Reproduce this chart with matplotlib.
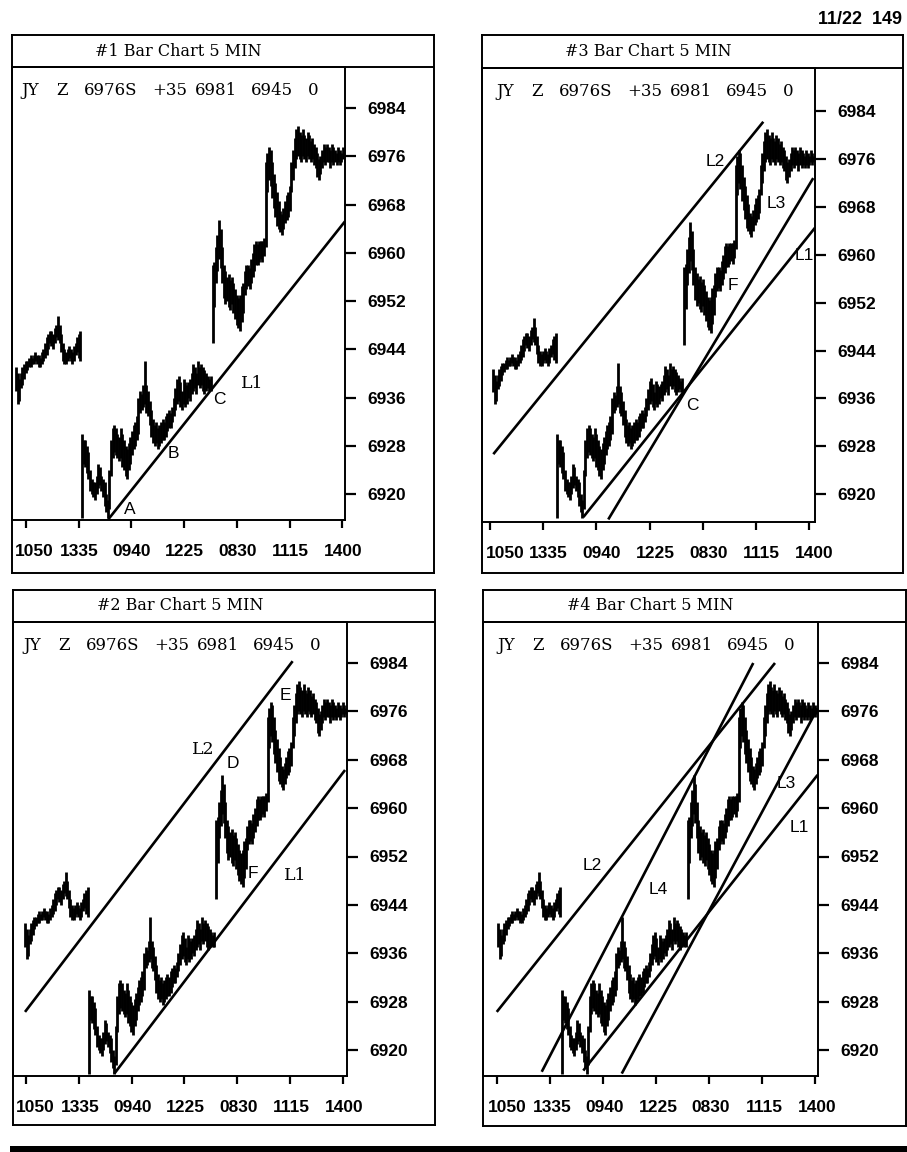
import matplotlib
matplotlib.use('Agg')
import matplotlib.pyplot as plt
from matplotlib.patches import Rectangle
from matplotlib.transforms import ScaledTranslation
import numpy as np

# ---------------- data ----------------
DAY1_START = -6
DAY1_HIGH = [6941, 6940, 6939, 6940, 6941, 6941.5, 6942, 6942, 6942.5, 6943, 6942.5,
             6943, 6943.5, 6943, 6943, 6942.5, 6943.5, 6944, 6945, 6946, 6946.5, 6947,
             6947, 6946.5, 6947.5, 6948, 6949.5, 6948, 6946.5, 6945, 6944, 6943.5, 6944,
             6944.5, 6944, 6943.5, 6944.5, 6945, 6946, 6946.5, 6947]
DAY1_LOW = [6937, 6935, 6935.5, 6937.5, 6938, 6939, 6940, 6940.5, 6941, 6941, 6941.5,
            6941.5, 6942, 6941.5, 6941, 6941, 6941.5, 6942, 6942.5, 6943, 6944, 6945,
            6944.5, 6944, 6945, 6946, 6945.5, 6945, 6943.5, 6942, 6941.5, 6941.5, 6942,
            6942.5, 6942, 6941.5, 6942, 6943, 6943.5, 6942.5, 6942]

DAY2_START = 35
DAY2_HIGH = [6930, 6929, 6929, 6928, 6927, 6924, 6922.5, 6922, 6922, 6923, 6925, 6924.5,
             6923, 6922.5, 6922, 6920, 6919, 6924, 6929, 6931, 6931.5, 6931, 6930, 6929.5,
             6931, 6930, 6929, 6928, 6927.5, 6928.5, 6929.5, 6930.5, 6931.5, 6932, 6933,
             6936, 6937, 6936.5, 6938, 6942, 6938, 6937, 6935.5, 6934, 6932.5, 6931.5,
             6932, 6931, 6931.5, 6932, 6932.5, 6932, 6933, 6933.5, 6934, 6933.5, 6934.5,
             6936, 6937.5, 6939, 6939.5, 6938.5, 6937, 6939, 6938.5, 6938, 6938.5, 6939,
             6940, 6941.5, 6941, 6940, 6942, 6941, 6941.5, 6941, 6940.5, 6940, 6939.5,
             6939, 6939.5]
DAY2_LOW = [6916, 6925, 6924.5, 6923.5, 6922.5, 6920.5, 6920, 6919.5, 6919, 6920, 6921,
            6921.5, 6920.5, 6919.5, 6918, 6917, 6916, 6917.5, 6923, 6926, 6927, 6926.5,
            6926, 6925.5, 6926, 6924.5, 6924, 6923, 6922.5, 6924, 6925, 6926.5, 6927.5,
            6928, 6929, 6930, 6933.5, 6934, 6934.5, 6935, 6933.5, 6933, 6931.5, 6929.5,
            6928.5, 6928, 6928.5, 6927.5, 6928, 6928.5, 6929, 6929, 6929.5, 6930.5, 6931,
            6931, 6932, 6933, 6934, 6935, 6935.5, 6934.5, 6934, 6935, 6934.5, 6935, 6936,
            6935.5, 6936.5, 6937, 6937.5, 6936.5, 6938, 6937.5, 6938, 6937, 6936.5, 6937,
            6937.5, 6937, 6937]

DAY3_START = 116
DAY3_HIGH = [6958, 6958.5, 6961, 6963, 6965.5, 6964, 6961, 6958, 6957, 6956, 6956.5,
             6955.5, 6956, 6955, 6954, 6953, 6952.5, 6953, 6954.5, 6955, 6957, 6958, 6958,
             6957.5, 6959, 6960, 6961.5, 6962, 6961.5, 6962, 6962, 6962, 6962.5, 6975,
             6976.5, 6977.5, 6977, 6975, 6973, 6971.5, 6970, 6968.5, 6967, 6966.5, 6967.5,
             6968.5, 6969.5, 6970, 6971, 6975, 6977, 6979, 6980.5, 6981, 6980, 6979.5,
             6980.5, 6979.5, 6979, 6980, 6979.5, 6978.5, 6979, 6978, 6977.5, 6976.5,
             6975.5, 6976, 6977, 6978, 6977.5, 6978, 6977.5, 6977, 6978, 6977.5, 6977,
             6976.5, 6977.5, 6977, 6976.5, 6977.5, 6977, 6976.5]
DAY3_LOW = [6945, 6951, 6955, 6957, 6959, 6957.5, 6955, 6952.5, 6951.5, 6952, 6951,
            6950.5, 6951.5, 6950, 6949, 6948, 6947.5, 6947, 6948.5, 6950, 6953, 6954,
            6954.5, 6954, 6955, 6956, 6957, 6958, 6958, 6958.5, 6959, 6958.5, 6959.5,
            6961, 6970, 6972, 6971, 6969, 6967.5, 6966, 6964.5, 6964, 6963.5, 6963, 6964,
            6965, 6965.5, 6966, 6967, 6970, 6972, 6974, 6975.5, 6976, 6975.5, 6975, 6976,
            6975.5, 6975, 6976, 6975.5, 6975, 6975.5, 6974.5, 6974, 6972.5, 6972, 6973,
            6974, 6975, 6974.5, 6975, 6975, 6974, 6975, 6974.5, 6975, 6974.5, 6975,
            6974.5, 6975, 6975.5, 6975, 6975.5]

PRICE_TICKS = [6920, 6928, 6936, 6944, 6952, 6960, 6968, 6976, 6984]
TIME_LABELS = ['1050', '1335', '0940', '1225', '0830', '1115', '1400']
INFO_TOKENS = ['JY', 'Z', '6976S', '+35', '6981', '6945', '0']
TITLES = ['#1 Bar Chart 5 MIN', '#2 Bar Chart 5 MIN', '#3 Bar Chart 5 MIN', '#4 Bar Chart 5 MIN']
PAGE_HEADER = '11/22  149'

# trend lines (bar index, price)
P1_L1 = ([51.3, 198.2], [6915.8, 6965.2])
P2_L2 = ([-6.0, 165.0], [6926.3, 6984.3])
P2_L1 = ([51.1, 198.5], [6916.1, 6966.3])
P3_L2 = ([-5.8, 166.6], [6926.7, 6982.2])
P3_L1 = ([51.7, 199.6], [6916.2, 6964.5])
P3_L3 = ([67.6, 198.5], [6915.8, 6972.8])
P4_L2 = ([-7.0, 172.4], [6926.3, 6984.0])
P4_L4 = ([22.0, 158.4], [6916.4, 6984.0])
P4_L1 = ([48.8, 199.9], [6916.6, 6965.5])
P4_L3 = ([73.6, 199.9], [6916.1, 6976.5])

# ---------------- figure ----------------
W, H = 907, 1152
fig = plt.figure(figsize=(W / 100, H / 100), dpi=100)
fig.patch.set_facecolor('white')

SERIF = ['DejaVu Serif']
SANS = ['Liberation Sans', 'DejaVu Sans']


def axes_px(x0, y0, x1, y1, z=0):
    return fig.add_axes([x0 / W, 1 - y1 / H, (x1 - x0) / W, (y1 - y0) / H], zorder=z)


def ftext(x, y, s, **kw):
    fig.text(x / W, 1 - y / H, s, **kw)


idx1 = np.arange(DAY1_START, DAY1_START + len(DAY1_HIGH))
idx2 = np.arange(DAY2_START, DAY2_START + len(DAY2_HIGH))
idx3 = np.arange(DAY3_START, DAY3_START + len(DAY3_HIGH))
bar_idx = np.concatenate([idx1, idx2, idx3])
bar_hi = np.concatenate([DAY1_HIGH, DAY2_HIGH, DAY3_HIGH])
bar_lo = np.concatenate([DAY1_LOW, DAY2_LOW, DAY3_LOW])

# panel geometry in pixels
PANELS = [
    dict(title=TITLES[0], box=(12, 35, 434, 573), band=67, plot=(12, 67, 345, 520),
         tick0=26, tickstep=52.7, a=25.67, b=1.611, p84=108, p20=494, info_dx=9,
         lbl_shift=0.5, first_shift=8, lines=[P1_L1],
         labels=[('A', 130, 510, SANS), ('B', 173, 453, SANS), ('C', 219, 399, SANS),
                 ('L1', 252, 383, SERIF)]),
    dict(title=TITLES[1], box=(13, 590, 435, 1125), band=622, plot=(13, 622, 347, 1076),
         tick0=26, tickstep=52.83, a=34.4, b=1.565, p84=663, p20=1050, info_dx=10,
         lbl_shift=1, first_shift=8, lines=[P2_L2, P2_L1],
         labels=[('L2', 203, 750, SERIF), ('D', 233, 764, SANS), ('E', 285, 696, SANS),
                 ('F', 253, 873, SANS), ('L1', 295, 875, SERIF)]),
    dict(title=TITLES[2], box=(482, 35, 903, 573), band=68, plot=(482, 68, 815, 522),
         tick0=490, tickstep=53.17, a=502.4, b=1.566, p84=111, p20=494.3, info_dx=14,
         lbl_shift=5.5, first_shift=10, lines=[P3_L2, P3_L1, P3_L3],
         labels=[('L2', 715, 162, SANS), ('L3', 776, 203, SANS), ('L1', 804, 255, SANS),
                 ('F', 733, 286, SANS), ('C', 692, 406, SANS)]),
    dict(title=TITLES[3], box=(483, 590, 906, 1126), band=622, plot=(483, 622, 818, 1076),
         tick0=497, tickstep=53.0, a=507.6, b=1.551, p84=663, p20=1050, info_dx=14,
         lbl_shift=2, first_shift=8, lines=[P4_L2, P4_L4, P4_L1, P4_L3],
         labels=[('L2', 592, 865, SANS), ('L4', 658, 889, SANS), ('L3', 786, 783, SANS),
                 ('L1', 799, 828, SANS)]),
]

INFO_OFFSETS = [0, 35, 63, 131, 174, 230, 287]

for P in PANELS:
    bx0, by0, bx1, by1 = P['box']
    px0, py0, px1, py1 = P['plot']
    # outer frame
    fr = axes_px(bx0, by0, bx1, by1, z=0)
    fr.set_xlim(0, 1)
    fr.set_ylim(0, 1)
    fr.set_xticks([])
    fr.set_yticks([])
    for s in fr.spines.values():
        s.set_linewidth(1.4)
    fr.axhline(1 - (P['band'] - by0) / (by1 - by0), color='black', lw=1.4)
    ftext((px0 + px1) / 2, (by0 + P['band']) / 2, P['title'], ha='center', va='center',
          family=SERIF, fontsize=11.5)

    ax = axes_px(px0, py0, px1, py1, z=2)
    ax.patch.set_alpha(0)
    a, b = P['a'], P['b']
    ax.set_xlim((px0 - a) / b, (px1 - a) / b)
    ppu = (P['p20'] - P['p84']) / 64.0
    ax.set_ylim(6920 - (py1 - P['p20']) / ppu, 6920 + (P['p20'] - py0) / ppu)

    ax.vlines(bar_idx, bar_lo, bar_hi, color='black', lw=2.0)
    for lx, ly in P['lines']:
        ax.plot(lx, ly, color='black', lw=1.9, solid_capstyle='butt')

    tick_pos = [((P['tick0'] + k * P['tickstep']) - a) / b for k in range(len(TIME_LABELS))]
    ax.set_xticks(tick_pos, TIME_LABELS)
    ax.yaxis.tick_right()
    ax.set_yticks(PRICE_TICKS, [str(t) for t in PRICE_TICKS])
    ax.tick_params(axis='x', direction='out', length=6, width=1.6, pad=11, labelsize=12.5)
    ax.tick_params(axis='y', direction='out', length=8, width=1.6, pad=8, labelsize=12.5)
    for lbl in ax.get_yticklabels():
        lbl.set_fontfamily(SANS)
        lbl.set_fontweight('bold')
    for k, lbl in enumerate(ax.get_xticklabels()):
        lbl.set_fontfamily(SANS)
        lbl.set_fontweight('bold')
        dx = P['lbl_shift'] + (P['first_shift'] if k == 0 else 0)
        lbl.set_transform(lbl.get_transform()
                          + ScaledTranslation(dx / 100, 0, fig.dpi_scale_trans))
    for s in ax.spines.values():
        s.set_linewidth(1.4)

    for tok, off in zip(INFO_TOKENS, INFO_OFFSETS):
        ftext(px0 + P['info_dx'] + off, py0 + 23.5, tok, ha='left', va='center',
              family=SERIF, fontsize=12)

    for txt, x, y, fam in P['labels']:
        ftext(x, y, txt, ha='center', va='center', family=fam, fontsize=12.5, zorder=5)

ftext(902, 20, PAGE_HEADER, ha='right', va='center', family=SANS, fontweight='bold',
      fontsize=13)
fig.add_artist(Rectangle((10 / W, 0), (W - 10) / W, 6 / H, transform=fig.transFigure,
                         color='black', lw=0))

fig.savefig('out.png', dpi=100)
